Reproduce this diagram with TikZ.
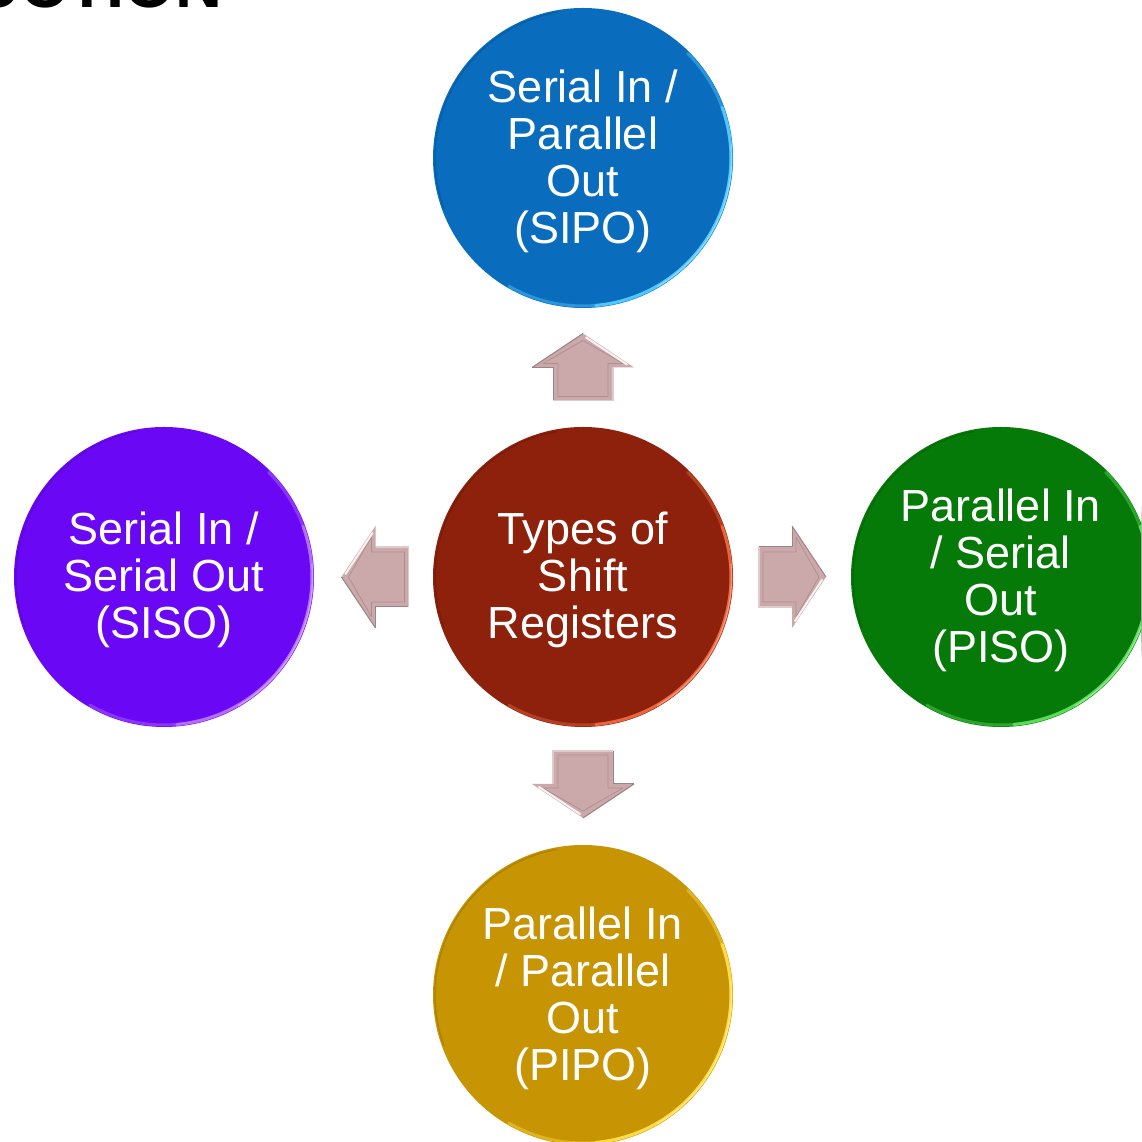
\documentclass[tikz,border=0pt]{standalone}
\usepackage{fontspec}
\setmainfont{Liberation Sans}
\usetikzlibrary{calc,backgrounds}
\definecolor{cblue}{RGB}{9,108,189}
\definecolor{cbluerim}{RGB}{80,200,255}
\definecolor{cpurple}{RGB}{106,8,246}
\definecolor{cpurplerim}{RGB}{180,110,255}
\definecolor{cred}{RGB}{141,33,12}
\definecolor{credrim}{RGB}{235,100,60}
\definecolor{cgreen}{RGB}{6,122,9}
\definecolor{cgreenrim}{RGB}{90,220,90}
\definecolor{cgold}{RGB}{199,148,3}
\definecolor{cgoldrim}{RGB}{255,220,70}
\definecolor{afill}{RGB}{203,168,170}
\tikzset{
  disc/.style={circle, minimum size=300pt, inner sep=0pt},
  disctext/.style={text=white, align=center, inner sep=0pt,
    font=\fontsize{45}{47}\selectfont},
  rim/.style={line width=3pt, line cap=round},
  blockarrow/.pic={
    \fill[afill] (-33,-30) -- (0,-30) -- (0,-51) -- (34,0) -- (0,51) -- (0,30) -- (-33,30) -- cycle;
    \draw[afill!85!black, line width=0.7pt, line join=round]
      (-29,-25) -- (4,-25) -- (4,-40) -- (27,0) -- (4,40) -- (4,25) -- (-29,25) -- cycle;
    \draw[afill!78!black, line width=1pt] (0,51) -- (34,0);
    \draw[afill!78!black, line width=1pt] (-33,30) -- (0,30) -- (0,51);
    \draw[white, line width=2pt, line cap=round, opacity=0.85] (3,-44) -- (30,-3);
    \draw[afill!60!white, line width=1.2pt] (-33,30) -- (-33,-30) -- (0,-30);
  }
}
\begin{document}
\begin{tikzpicture}[x=1pt, y=1pt]
\useasboundingbox (0,0) rectangle (1141,1142);
\clip (0,0) rectangle (1141,1142);
\fill[white] (0,0) rectangle (1141,1142);

\node[anchor=base west, font=\fontsize{65}{65}\selectfont\bfseries, inner sep=0pt] (hd) at (-27,1134) {UCTION};

\node[disc, fill=cred]    (c) at (583,565) {};
\node[disc, fill=cblue]   (t) at (583,984) {};
\node[disc, fill=cpurple] (l) at (164,565) {};
\node[disc, fill=cgreen]  (r) at (1001,565) {};
\node[disc, fill=cgold]   (b) at (583,147) {};

\node[disctext] (ct) at ($(c.center)+(0,-3)$) {Types of\\Shift\\Registers};
\node[disctext] (tt) at ($(t.center)+(0,-3)$) {Serial In /\\Parallel\\Out\\(SIPO)};
\node[disctext] (lt) at ($(l.center)+(0,-3)$) {Serial In /\\Serial Out\\(SISO)};
\node[disctext] (rt) at ($(r.center)+(0,-3)$) {Parallel In\\/ Serial\\Out\\(PISO)};
\node[disctext] (bt) at ($(b.center)+(0,-3)$) {Parallel In\\/ Parallel\\Out\\(PIPO)};

\begin{scope}[on background layer]
  \foreach \n in {c,t,l,r,b} {
    \fill[black, opacity=0.07] ($(\n.center)+(4,-5)$) circle (156pt);
    \fill[black, opacity=0.10] ($(\n.center)+(4,-5)$) circle (153pt);
    \fill[black, opacity=0.14] ($(\n.center)+(3,-4)$) circle (150pt);
  }
\end{scope}

\foreach \n/\rc in {c/credrim, t/cbluerim, l/cpurplerim, r/cgreenrim, b/cgoldrim} {
  \draw[rim, \rc, opacity=0.45] ($(\n.center)+(45:148pt)$) arc (45:-120:148pt);
  \draw[rim, \rc] ($(\n.center)+(20:148pt)$) arc (20:-85:148pt);
  \draw[line width=1.2pt, \rc!50!white, opacity=0.7] ($(\n.center)+(5:148.5pt)$) arc (5:-60:148.5pt);
  \draw[line width=1.5pt, black, opacity=0.12] ($(\n.center)+(100:148pt)$) arc (100:200:148pt);
}

\pic[rotate=90]  at ($(c.north)!0.5!(t.south)$) {blockarrow};
\pic[rotate=180] at ($(c.west)!0.5!(l.east)+(2,0)$) {blockarrow};
\pic[rotate=0]   at ($(c.east)!0.5!(r.west)$) {blockarrow};
\pic[rotate=-90] at ($(c.south)!0.5!(b.north)+(0,2)$) {blockarrow};
\end{tikzpicture}
\end{document}
